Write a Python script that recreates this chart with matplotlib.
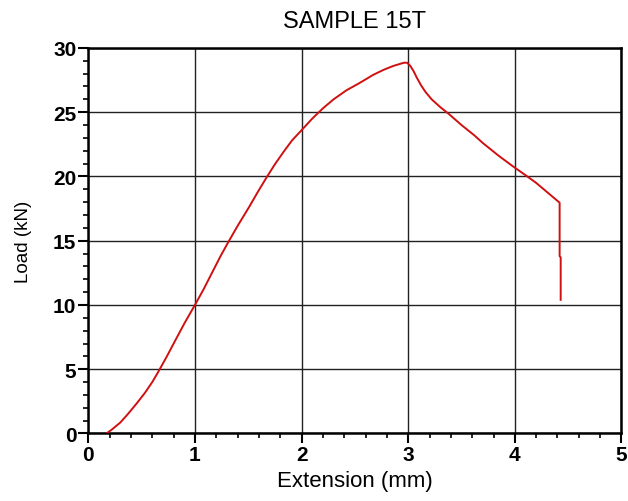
import matplotlib
matplotlib.use("Agg")
import matplotlib.pyplot as plt
from matplotlib.ticker import MultipleLocator

plt.rcParams['font.family'] = ['Liberation Sans', 'DejaVu Sans']

extension_mm = [0.17, 0.22, 0.30, 0.37, 0.45, 0.53, 0.60, 0.66, 0.74, 0.81, 0.90,
                1.00, 1.08, 1.16, 1.24, 1.31, 1.40, 1.51, 1.59, 1.67, 1.75, 1.83,
                1.91, 2.00, 2.10, 2.20, 2.30, 2.42, 2.55, 2.67, 2.77, 2.86, 2.92,
                2.96, 2.99, 3.02, 3.05, 3.08, 3.12, 3.16, 3.22, 3.30, 3.39, 3.50,
                3.62, 3.70, 3.85, 3.98, 4.10, 4.20, 4.30, 4.42, 4.42, 4.43, 4.43]
load_kN = [0.0, 0.3, 0.85, 1.5, 2.3, 3.15, 4.0, 4.85, 6.05, 7.15, 8.55,
           10.0, 11.2, 12.5, 13.8, 14.85, 16.15, 17.65, 18.8, 19.9, 20.95, 21.9,
           22.8, 23.6, 24.5, 25.3, 26.0, 26.7, 27.3, 27.9, 28.3, 28.6, 28.75,
           28.85, 28.85, 28.6, 28.2, 27.7, 27.1, 26.6, 26.0, 25.4, 24.8, 24.0,
           23.2, 22.6, 21.6, 20.8, 20.1, 19.5, 18.8, 17.96, 13.8, 13.7, 10.4]

title = "SAMPLE 15T"
xlabel = "Extension (mm)"
ylabel = "Load (kN)"

fig = plt.figure(figsize=(6.28, 5.02), dpi=100)
ax = fig.add_axes([0.1406, 0.1345, 0.849, 0.768])
ax.plot(extension_mm, load_kN, color='#d01010', lw=1.4, zorder=3)

ax.set_xlim(0, 5)
ax.set_ylim(0, 30)
ax.xaxis.set_major_locator(MultipleLocator(1))
ax.xaxis.set_minor_locator(MultipleLocator(0.2))
ax.yaxis.set_major_locator(MultipleLocator(5))
ax.yaxis.set_minor_locator(MultipleLocator(1))
ax.grid(True, which='major', color='#222222', lw=1.0)
for s in ax.spines.values():
    s.set_linewidth(1.8)
ax.tick_params(which='major', direction='out', length=7, width=1.5,
               labelsize=15, pad=1.5)
ax.tick_params(which='minor', direction='out', length=3.6, width=1.2)
for lab in ax.get_xticklabels() + ax.get_yticklabels():
    lab.set_fontweight('bold')

ax.set_title(title, fontsize=17, pad=15)
ax.set_xlabel(xlabel, fontsize=16, labelpad=4)
ax.set_ylabel(ylabel, fontsize=13.5, labelpad=15)

fig.savefig("out.png", dpi=100)
